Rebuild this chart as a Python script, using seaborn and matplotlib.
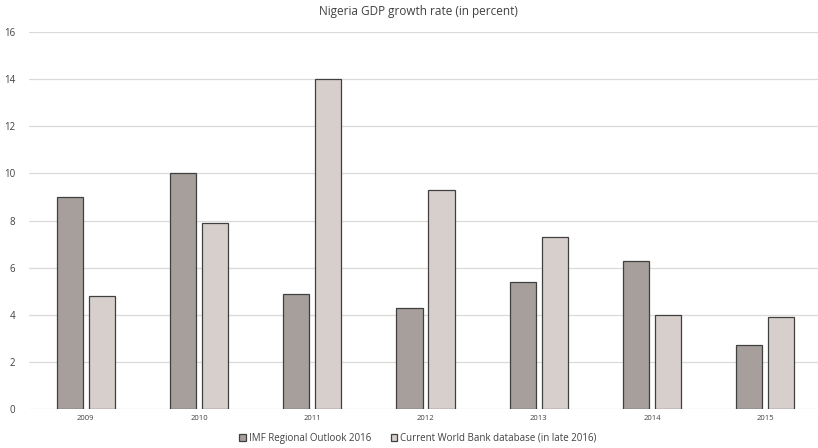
import matplotlib
matplotlib.use("Agg")
import matplotlib.pyplot as plt
import seaborn as sns
import pandas as pd

years = ["2009", "2010", "2011", "2012", "2013", "2014", "2015"]
imf = [9.0, 10.0, 4.9, 4.3, 5.4, 6.3, 2.7]
wb = [4.8, 7.9, 14.0, 9.3, 7.3, 4.0, 3.9]
series = ["IMF Regional Outlook 2016", "Current World Bank database (in late 2016)"]
yticks = [0, 2, 4, 6, 8, 10, 12, 14, 16]
title = "Nigeria GDP growth rate (in percent)"

df = pd.DataFrame({
    "year": years * 2,
    "value": imf + wb,
    "series": [series[0]] * len(years) + [series[1]] * len(years),
})

sns.set_theme(style="white")
plt.rcParams['font.family'] = ['Open Sans', 'DejaVu Sans']

W, H = 818, 448
fig = plt.figure(figsize=(W / 100, H / 100), dpi=100)
ax = fig.add_axes([29 / W, (H - 409) / H, (822 - 29) / W, (409 - 32) / H])

sns.barplot(data=df, x="year", y="value", hue="series",
            palette=["#a69f9c", "#d7cfcc"], saturation=1,
            width=0.564, gap=0.184, edgecolor="#404040", linewidth=0.9,
            ax=ax)

ax.set_ylim(0, 16)
ax.set_xlim(-0.5, len(years) - 0.5)
ax.set_yticks(yticks)
ax.set_yticklabels([str(t) for t in yticks], fontsize=7, color="#404040")
ax.tick_params(axis="x", labelsize=5.5, colors="#404040", length=0, pad=4)
ax.tick_params(axis="y", length=0, pad=10)
ax.set_xlabel("")
ax.set_ylabel("")
ax.yaxis.grid(True, color="#dcd9d8", linewidth=0.9)
ax.set_axisbelow(True)
for s in ax.spines.values():
    s.set_visible(False)

handles, labels = ax.get_legend_handles_labels()
ax.get_legend().remove()
fig.legend(handles, labels, loc="center", bbox_to_anchor=(418 / W, 1 - 438 / H),
           ncol=2, frameon=False, fontsize=7, handlelength=0.7, handleheight=0.7,
           handletextpad=0.3, columnspacing=2.0, labelcolor="#404040")

fig.text(418 / W, 1 - 12 / H, title, ha="center", va="center", fontsize=8.5,
         color="#404040")

fig.savefig("out.png", dpi=100)
